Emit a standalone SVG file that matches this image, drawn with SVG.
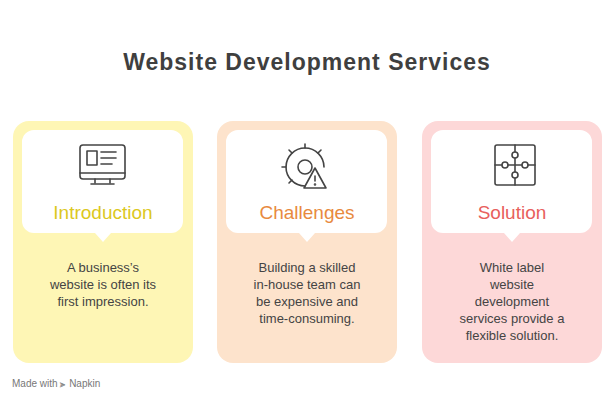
<svg xmlns="http://www.w3.org/2000/svg" width="615" height="410" viewBox="0 0 615 410">
<style>
.title{font-family:"Liberation Sans",sans-serif;font-weight:bold;font-size:23px;letter-spacing:1px;fill:#3f3f3f;text-anchor:middle}
.h{font-family:"Liberation Sans",sans-serif;font-size:19px;text-anchor:middle}
.b{font-family:"Liberation Sans",sans-serif;font-size:13px;fill:#444;text-anchor:middle}
.ic{fill:none;stroke:#444;stroke-width:1.6;stroke-linejoin:round;stroke-linecap:round}
</style>
<rect width="615" height="410" fill="#fff"/>
<text class="title" x="307" y="70">Website Development Services</text>
<g id="intro">
<rect x="13" y="121" width="180" height="242" rx="16" fill="#fef6b5"/>
<path d="M22,142 a12,12 0 0 1 12,-12 h137 a12,12 0 0 1 12,12 v79 a12,12 0 0 1 -12,12 h-60 l-8,9 l-8,-9 h-61 a12,12 0 0 1 -12,-12 z" fill="#fff"/>
<g class="ic"><rect x="80" y="145" width="45" height="34" rx="3"/><line x1="80" y1="173" x2="125" y2="173"/><line x1="95" y1="179" x2="95" y2="183"/><line x1="110" y1="179" x2="110" y2="183"/><line x1="91" y1="184" x2="114" y2="184"/><rect x="87" y="151" width="10" height="14"/><line x1="101" y1="152" x2="116" y2="152"/><line x1="101" y1="158" x2="116" y2="158"/><line x1="101" y1="164" x2="112" y2="164"/></g>
<text class="h" x="103" y="219" fill="#dcc81e">Introduction</text>
<text class="b" x="103" y="272">A business’s</text>
<text class="b" x="103" y="289">website is often its</text>
<text class="b" x="103" y="306">first impression.</text>
</g>
<g id="challenges">
<rect x="217" y="121" width="180" height="242" rx="16" fill="#fde3cc"/>
<path d="M226,142 a12,12 0 0 1 12,-12 h137 a12,12 0 0 1 12,12 v79 a12,12 0 0 1 -12,12 h-60 l-8,9 l-8,-9 h-61 a12,12 0 0 1 -12,-12 z" fill="#fff"/>
<g class="ic"><path d="M305,186 a19,19 0 1 1 19,-19"/><circle cx="305" cy="167" r="7"/><path d="M305,148 l0,-4 M318,153 l3,-3 M292,153 l-3,-3 M286,167 l-4,0 M292,180 l-3,3"/><path d="M315,168 l-11,20 h22 z"/><line x1="315" y1="176" x2="315" y2="181"/><circle cx="315" cy="184.5" r="0.5"/></g>
<text class="h" x="307" y="219" fill="#e88a3e">Challenges</text>
<text class="b" x="307" y="272">Building a skilled</text>
<text class="b" x="307" y="289">in-house team can</text>
<text class="b" x="307" y="306">be expensive and</text>
<text class="b" x="307" y="323">time-consuming.</text>
</g>
<g id="solution">
<rect x="422" y="121" width="180" height="242" rx="16" fill="#fdd8d8"/>
<path d="M431,142 a12,12 0 0 1 12,-12 h137 a12,12 0 0 1 12,12 v79 a12,12 0 0 1 -12,12 h-60 l-8,9 l-8,-9 h-61 a12,12 0 0 1 -12,-12 z" fill="#fff"/>
<g class="ic"><rect x="495" y="145" width="40" height="40" rx="2"/><line x1="515" y1="145" x2="515" y2="185"/><line x1="495" y1="165" x2="535" y2="165"/><circle cx="515" cy="155" r="3" fill="#fff"/><circle cx="505" cy="165" r="3" fill="#fff"/><circle cx="525" cy="165" r="3" fill="#fff"/><circle cx="515" cy="175" r="3" fill="#fff"/></g>
<text class="h" x="512" y="219" fill="#e8605c">Solution</text>
<text class="b" x="512" y="272">White label</text>
<text class="b" x="512" y="289">website</text>
<text class="b" x="512" y="306">development</text>
<text class="b" x="512" y="323">services provide a</text>
<text class="b" x="512" y="340">flexible solution.</text>
</g>
<g id="connectors"></g>
<text x="12" y="387" font-family="Liberation Sans,sans-serif" font-size="10" fill="#777">Made with ⪢ Napkin</text>
</svg>
